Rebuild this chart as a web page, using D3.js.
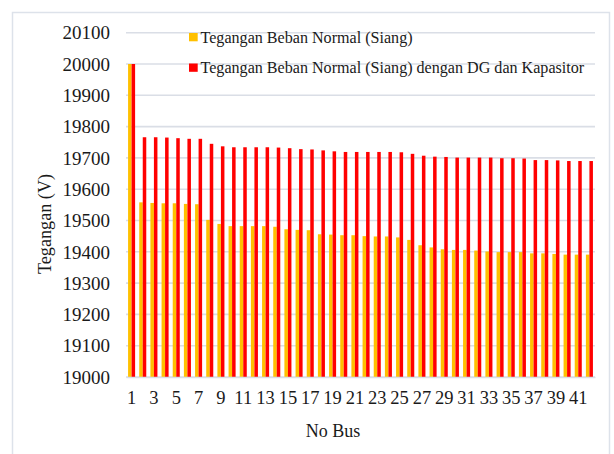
<!DOCTYPE html>
<html>
<head>
<meta charset="utf-8">
<script src="https://cdn.jsdelivr.net/npm/d3@7"></script>
<style>
  body { margin: 0; background: #fff; }
</style>
</head>
<body>
<div class="C"></div>
<script>
// data
var buses = d3.range(1, 43);
var normal = [20000, 19558, 19556, 19555, 19555, 19553, 19552, 19502, 19489, 19482,
    19482, 19482, 19482, 19480, 19472, 19470, 19469, 19456, 19455, 19453,
    19453, 19450, 19449, 19449, 19446, 19438, 19421, 19414, 19408, 19406,
    19406, 19404, 19401, 19399, 19399, 19399, 19395, 19395, 19393, 19391,
    19391, 19391];
var withDG = [20000, 19766, 19766, 19765, 19763, 19761, 19761, 19745, 19737, 19734,
    19734, 19734, 19734, 19733, 19731, 19728, 19727, 19724, 19721, 19719,
    19719, 19719, 19719, 19719, 19718, 19713, 19707, 19704, 19703, 19701,
    19701, 19701, 19701, 19699, 19699, 19698, 19693, 19693, 19692, 19690,
    19690, 19690];
var seriesNames = ['Tegangan Beban Normal (Siang)', 'Tegangan Beban Normal (Siang) dengan DG dan Kapasitor'];
var colors = ['#FFC000', '#FF0000'];
var yTicks = d3.range(19000, 20101, 100);
var xTickLabels = buses.filter(function (d) { return d % 2 === 1; });

var serif = '"Liberation Serif", "Times New Roman", Times, serif';
var width = 614, height = 454;
var svg = d3.select('.C').append('svg').attr('width', width).attr('height', height)
    .style('font-family', serif);

// chart border
svg.append('rect').attr('x', 12.5).attr('y', 12.5).attr('width', 597).attr('height', 460)
    .style('fill', 'none').style('stroke', '#dde2ea').style('stroke-width', 1.5);

var x = d3.scaleBand().domain(buses).range([126, 595]).paddingInner(0.37).paddingOuter(0.185);
var xs = d3.scaleBand().domain([0, 1]).range([0, x.bandwidth()]);
var y = d3.scaleLinear().domain([19000, 20100]).range([377, 32.7]);

// gridlines
svg.append('g').selectAll('line').data(yTicks).enter().append('line')
    .attr('x1', 126).attr('x2', 595)
    .attr('y1', function (d) { return y(d); }).attr('y2', function (d) { return y(d); })
    .style('stroke', '#dadee6').style('stroke-width', 1.6);

// bars
var rows = buses.map(function (b, i) { return { bus: b, vals: [normal[i], withDG[i]] }; });
var groups = svg.append('g').selectAll('g').data(rows).enter().append('g')
    .attr('transform', function (d) { return 'translate(' + x(d.bus) + ',0)'; });
groups.selectAll('rect').data(function (d) { return d.vals; }).enter().append('rect')
    .attr('x', function (d, i) { return xs(i); })
    .attr('width', xs.bandwidth())
    .attr('y', function (d) { return y(d); })
    .attr('height', function (d) { return y(19000) - y(d); })
    .style('fill', function (d, i) { return colors[i]; });

// y axis
var yAxis = svg.append('g').attr('transform', 'translate(110,0)')
    .call(d3.axisLeft(y).tickValues(yTicks).tickSize(0).tickPadding(0).tickFormat(d3.format('d')))
    .attr('font-family', null);
yAxis.select('.domain').remove();
yAxis.selectAll('text').style('font-family', serif).style('font-size', '19px').style('fill', '#1a1a1a').attr('dy', '0.33em');

// x axis
var xAxis = svg.append('g').attr('transform', 'translate(0,377)')
    .call(d3.axisBottom(x).tickValues(xTickLabels).tickSize(0).tickPadding(0))
    .attr('font-family', null);
xAxis.select('.domain').style('stroke', '#dadee6').style('stroke-width', 1.6);
xAxis.selectAll('text').style('font-family', serif).style('font-size', '18.5px').style('fill', '#1a1a1a').attr('y', 14).attr('dy', '0.71em');

// axis titles
svg.append('text').text('Tegangan (V)')
    .attr('transform', 'translate(51,224) rotate(-90)')
    .attr('text-anchor', 'middle').style('font-size', '18.2px').style('fill', '#1a1a1a');
svg.append('text').text('No Bus')
    .attr('x', 333).attr('y', 437)
    .attr('text-anchor', 'middle').style('font-size', '18px').style('fill', '#1a1a1a');

// legend
var legend = svg.append('g').selectAll('g').data(seriesNames).enter().append('g')
    .attr('transform', function (d, i) { return 'translate(189,' + (33 + i * 30.5) + ')'; });
legend.append('rect').attr('width', 8.7).attr('height', 8.3)
    .style('fill', function (d, i) { return colors[i]; });
legend.append('text').text(function (d) { return d; })
    .attr('x', 11.5).attr('y', 9.5).style('font-size', '16.1px').style('fill', '#1a1a1a');
</script>
</body>
</html>
